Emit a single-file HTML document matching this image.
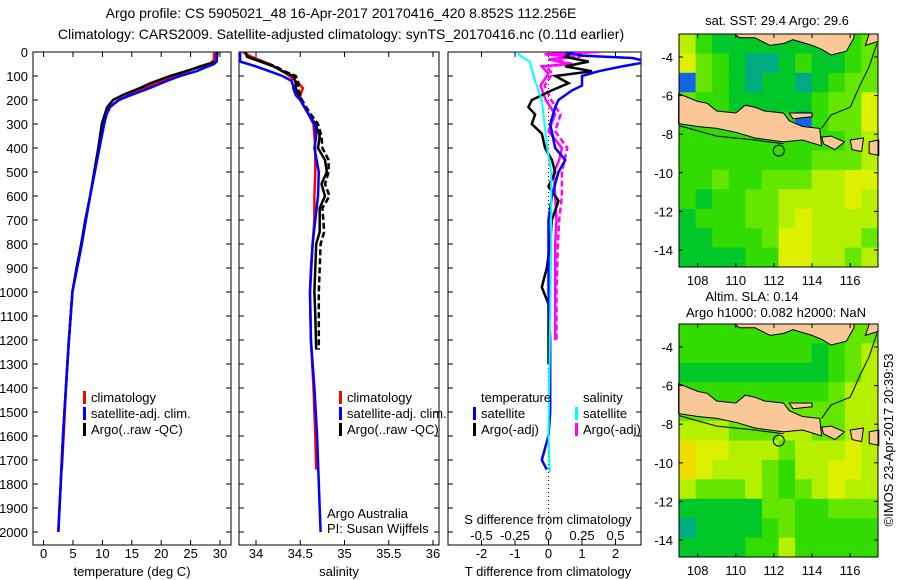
<!DOCTYPE html>
<html><head><meta charset="utf-8"><style>
body{margin:0;background:#fff;width:900px;height:580px;overflow:hidden}
svg{display:block;font-family:"Liberation Sans",sans-serif;font-size:13px}
</style></head><body>
<svg id="fig" width="900" height="580" viewBox="0 0 900 580">
<text x="341" y="18" text-anchor="middle" font-size="14">Argo profile: CS 5905021_48 16-Apr-2017 20170416_420 8.852S 112.256E</text>
<text x="341" y="39" text-anchor="middle" font-size="14">Climatology: CARS2009. Satellite-adjusted climatology: synTS_20170416.nc (0.11d earlier)</text>
<g id="g"></g>
</svg>
<script>
// ---- temperature panel data ----
const climTDepth=[0,30,45,60,80,100,120,150,180,200,230,260,300,400,500,600,700,800,900,1000,1200,1400,1600,1740];
const climT=[29.0,29.0,28.5,26.5,24.5,22,20,17.2,14.5,12.8,11.0,10.4,10.0,9.4,8.7,7.9,7.2,6.5,5.7,4.9,4.3,3.8,3.4,3.1];
const satTDepth=[0,40,50,60,80,100,120,150,180,200,230,260,300,400,500,600,700,800,900,1000,1200,1400,1600,1800,2000];
const satT=[29.4,29.4,29.0,28.0,26.0,23.2,21.0,18.1,14.8,12.8,11.3,10.7,10.3,9.5,8.7,7.9,7.2,6.5,5.7,4.9,4.3,3.8,3.3,2.9,2.5];
const argoTDepth=[0,40,55,70,100,130,150,180,200,230,300,400,500,600,700,800,900,1000,1200,1400,1600,1800,2000];
const argoT=[29.6,29.4,27.5,25.5,21.5,18.2,16.4,13.4,11.8,10.8,9.9,9.3,8.6,7.9,7.1,6.4,5.6,4.9,4.3,3.8,3.3,2.9,2.5];
// ---- salinity panel data ----
const climSDepth=[0,20,50,80,100,130,150,180,200,250,300,400,500,600,700,800,900,1000,1200,1400,1600,1740];
const climS=[33.85,33.95,34.15,34.3,34.38,34.48,34.53,34.5,34.5,34.58,34.65,34.67,34.67,34.66,34.66,34.64,34.62,34.61,34.62,34.65,34.67,34.68];
const satSDepth=[0,40,60,80,100,120,140,150,180,200,250,300,350,400,500,600,700,800,1000,1200,1400,1600,1800,2000];
const satS=[33.82,33.82,34.0,34.15,34.3,34.4,34.42,34.42,34.45,34.5,34.58,34.66,34.68,34.66,34.71,34.7,34.67,34.64,34.61,34.62,34.66,34.69,34.71,34.73];
const argoSDepth=[0,20,40,60,80,100,130,150,180,200,250,300,350,400,450,500,550,600,650,700,750,800,900,1000,1100,1240];
const argoS=[33.88,33.9,34.05,34.2,34.3,34.42,34.45,34.45,34.48,34.5,34.58,34.67,34.72,34.7,34.78,34.8,34.74,34.78,34.72,34.72,34.72,34.68,34.67,34.66,34.67,34.68];
const argoSRaw=[33.88,33.9,34.07,34.22,34.32,34.45,34.48,34.47,34.5,34.52,34.6,34.7,34.74,34.75,34.82,34.82,34.78,34.83,34.75,34.76,34.77,34.73,34.72,34.71,34.71,34.71];
// ---- difference panel data ----
const satDTDepth=[0,15,25,35,45,60,80,100,140,160,200,230,300,400,450,500,600,700,1000,1200,1500,1600,1650,1700,1740];
const satDT=[0.5,1.0,2.5,2.8,2.8,2.2,1.5,1.0,1.0,0.7,0.3,0.2,0.05,0.2,0.5,0.3,0.1,0,0,0.05,0.05,0,-0.1,-0.2,-0.05];
const argoDTDepth=[0,20,40,60,80,100,130,160,200,230,260,300,340,400,450,500,560,620,700,800,900,980,1050,1200,1300];
const argoDT=[0.7,0.5,1.2,0.5,1.3,0.2,0.6,0.1,-0.5,-0.6,-0.4,-0.5,-0.2,-0.1,0.1,0.2,0,0.3,0.1,0.05,-0.05,-0.2,0,0,0];
const satDSDepth=[0,20,40,80,120,200,300,400,500,800,1200,1600,1750];
const satDS=[-0.24,-0.2,-0.14,-0.12,-0.1,-0.05,-0.03,-0.01,0.02,0.02,0.01,0,0.01];
const argoDSDepth=[0,10,20,30,50,60,90,140,200,260,330,400,450,500,600,700,800,1000,1200];
const argoDS=[0.35,-0.03,0.2,0.0,0.15,-0.05,0.0,-0.06,-0.02,0.05,0.0,0.1,0.08,0.04,0.05,0.06,0.05,0.05,0.05];
const argoDSRaw=[0.38,0.0,0.24,0.03,0.18,-0.02,0.03,-0.03,0.02,0.09,0.05,0.14,0.12,0.1,0.1,0.08,0.07,0.06,0.06];
// ---- tick labels ----
const depthTicks=[0,100,200,300,400,500,600,700,800,900,1000,1100,1200,1300,1400,1500,1600,1700,1800,1900,2000];
const tTicks=[0,5,10,15,20,25,30];
const sTicks=[34,34.5,35,35.5,36];
const dtTicks=[-2,-1,0,1,2];
const dsTicks=[-0.5,-0.25,0,0.25,0.5];
const latTicks=[-4,-6,-8,-10,-12,-14];
const lonTicks=[108,110,112,114,116];
// ---- map grids (colour class per cell, rows top->bottom) ----
const sstGrid=[
[5,3,2,2,2,2,2,2,2,3,3,4],[6,4,3,2,1,1,2,3,2,2,3,4],[0,4,3,2,1,2,2,1,2,3,4,4],[4,3,3,2,2,2,2,2,3,4,4,6],
[3,3,3,3,3,3,3,0,3,4,4,6],[3,3,3,3,3,3,3,3,3,3,4,5],[3,3,3,3,3,3,3,3,4,4,4,5],[3,3,4,3,3,4,4,4,5,5,6,6],
[3,2,3,3,4,4,5,5,5,5,6,5],[2,3,3,3,4,4,5,6,5,5,5,5],[2,2,3,3,3,4,6,6,5,5,5,4],[2,2,2,2,3,3,6,6,5,5,4,5]];
const slaGrid=[
[3,3,3,3,3,3,3,3,3,3,4,4],[3,3,3,3,3,3,3,3,2,3,4,5],[2,2,2,2,2,2,2,2,2,3,4,5],[3,3,3,3,3,3,3,3,3,4,5,5],
[4,4,4,4,4,4,4,4,4,4,5,5],[5,5,5,4,4,4,5,5,4,4,5,5],[7,6,6,5,5,5,4,5,5,5,6,5],[7,6,5,5,5,4,3,5,5,6,6,5],
[5,4,4,4,5,4,3,4,5,6,5,5],[2,2,2,2,2,4,4,3,3,4,4,4],[1,2,2,2,2,3,4,3,3,3,3,3],[2,2,2,2,3,3,5,3,3,3,3,3]];
const palette=["#1464e6","#00aa82","#00c828","#32dc00","#64e600","#b4f000","#dcf000","#f0dc00"];
const argoLon=112.256, argoLat=-8.852;

const NS="http://www.w3.org/2000/svg";
const G=document.getElementById('g');
function mk(tag,attrs,parent){const e=document.createElementNS(NS,tag);for(const k in attrs)e.setAttribute(k,attrs[k]);(parent||G).appendChild(e);return e;}
const yD=d=>52+d*0.24;
const xT=t=>43.6+t*5.88;
const xS=s=>256+(s-34)*88.5;
const xDT=v=>548.5+v*33.5;
const xDS=v=>548.5+v*134;

function frame(x0,x1,y0,y1,name){
  const r=mk('rect',{x:x0,y:y0,width:x1-x0,height:y1-y0,fill:'none',stroke:'#000','stroke-width':1});
  
  
}
function txt(x,y,s,anchor,name,extra){
  const t=mk('text',Object.assign({x:x,y:y,'text-anchor':anchor||'start'},extra||{}));
  t.textContent=s;
  
  
  return t;
}
function line(depths,vals,xf,color,name,dash,w,clip){
  const pts=depths.map((d,i)=>xf(vals[i]).toFixed(1)+','+yD(d).toFixed(1)).join(' ');
  const a={points:pts,fill:'none',stroke:color,'stroke-width':w||2.5};
  if(dash)a['stroke-dasharray']=dash;
  if(clip)a['clip-path']=clip;
  const p=mk('polyline',a);
  
  
}
const defs=mk('defs',{});
const cp=mk('clipPath',{id:'cp3'},defs);mk('rect',{x:448,y:52,width:193,height:493},cp);
const cp1=mk('clipPath',{id:'cp2'},defs);mk('rect',{x:239,y:52,width:200,height:493},cp1);

const Y0=52,Y1=545;
frame(33,231,Y0,Y1,'temperature-panel');
frame(239,439,Y0,Y1,'salinity-panel');
frame(448,641,Y0,Y1,'difference-panel');
depthTicks.forEach(d=>{
  const y=yD(d);
  txt(28,y+5,String(d),'end','depth-tick-label');
  [[33,38],[226,231],[239,244],[434,439],[448,453],[636,641]].forEach(p=>mk('line',{x1:p[0],x2:p[1],y1:y,y2:y,stroke:'#000'}));
});
tTicks.forEach(t=>{const x=xT(t);txt(x,558,String(t),'middle','temperature-tick-label');mk('line',{x1:x,x2:x,y1:Y0,y2:Y0+5,stroke:'#000'});mk('line',{x1:x,x2:x,y1:Y1-5,y2:Y1,stroke:'#000'});});
sTicks.forEach(s=>{const x=xS(s);txt(x,558,String(s),'middle','salinity-tick-label');mk('line',{x1:x,x2:x,y1:Y0,y2:Y0+5,stroke:'#000'});mk('line',{x1:x,x2:x,y1:Y1-5,y2:Y1,stroke:'#000'});});
dtTicks.forEach(v=>{const x=xDT(v);txt(x,558,String(v),'middle','t-diff-tick-label');mk('line',{x1:x,x2:x,y1:Y0,y2:Y0+5,stroke:'#000'});mk('line',{x1:x,x2:x,y1:Y1-5,y2:Y1,stroke:'#000'});});
dsTicks.forEach(v=>{txt(xDS(v),540,String(v),'middle','s-diff-tick-label');});
txt(132,576,'temperature (deg C)','middle','temperature-axis-title');
txt(339,576,'salinity','middle','salinity-axis-title');
txt(548,576,'T difference from climatology','middle','t-diff-axis-title');
txt(548,524,'S difference from climatology','middle','s-diff-axis-title');
mk('line',{x1:548.5,x2:548.5,y1:Y0,y2:yD(2000),stroke:'#000','stroke-dasharray':'1,3'});

line(climTDepth,climT,xT,'#ff0000','temperature-climatology-line');
line(argoTDepth,argoT,xT,'#000','temperature-argo-line');
line(satTDepth,satT,xT,'#0000ff','temperature-satellite-line');
line(climSDepth,climS,xS,'#ff0000','salinity-climatology-line',null,2.5,'url(#cp2)');
line(argoSDepth,argoSRaw,xS,'#000','salinity-argo-raw-line','6,3',2.5,'url(#cp2)');
line(argoSDepth,argoS,xS,'#000','salinity-argo-qc-line',null,2.5,'url(#cp2)');
line(satSDepth,satS,xS,'#0000ff','salinity-satellite-line',null,2.5,'url(#cp2)');
line(argoDSDepth,argoDSRaw,xDS,'#ff00ff','s-diff-argo-raw-line','6,3',2.5,'url(#cp3)');
line(argoDSDepth,argoDS,xDS,'#ff00ff','s-diff-argo-line',null,2.5,'url(#cp3)');
line(argoDTDepth,argoDT,xDT,'#000','t-diff-argo-line',null,2.5,'url(#cp3)');
line(satDTDepth,satDT,xDT,'#0000ff','t-diff-satellite-line',null,2.5,'url(#cp3)');
line(satDSDepth,satDS,xDS,'#00ffff','s-diff-satellite-line',null,2,'url(#cp3)');

function leg(bx,ty,color,label,name){
  const r=mk('rect',{x:bx,y:ty-11,width:3,height:13,fill:color});
  
  
  txt(bx+8,ty,label,'start',name);
}
[[83],[339]].forEach((p,i)=>{
  const nm=i?'salinity':'temperature';
  leg(p[0],402,'#ff0000','climatology',nm+'-legend-climatology');
  leg(p[0],418,'#0000ff','satellite-adj. clim.',nm+'-legend-satellite');
  leg(p[0],434,'#000','Argo(..raw -QC)',nm+'-legend-argo');
});
txt(481,402,'temperature','start','diff-legend-temperature-header');
txt(583,402,'salinity','start','diff-legend-salinity-header');
leg(473,418,'#0000ff','satellite','diff-legend-t-satellite');
leg(473,434,'#000','Argo(-adj)','diff-legend-t-argo');
leg(575,418,'#00ffff','satellite','diff-legend-s-satellite');
leg(575,434,'#ff00ff','Argo(-adj)','diff-legend-s-argo');
txt(327,518,'Argo Australia','start','credit-argo-australia');
txt(327,533,'PI: Susan Wijffels','start','credit-pi');

const MX0=679,MX1=878,LON0=107.02,LON1=117.46,LAT0=-2.81,LAT1=-14.88;
function drawMap(grid,top,name){
  const bot=top+233;
  const mx=l=>MX0+(l-LON0)*(MX1-MX0)/(LON1-LON0);
  const my=l=>top+(l-LAT0)*(bot-top)/(LAT1-LAT0);
  const cw=(MX1-MX0)/grid[0].length,ch=(bot-top)/grid.length;
  grid.forEach((row,r)=>row.forEach((v,c)=>{
    const e=mk('rect',{x:(MX0+c*cw).toFixed(1),y:(top+r*ch).toFixed(1),width:(cw+0.5).toFixed(1),height:(ch+0.5).toFixed(1),fill:palette[v]});
    
    
  }));
  const land=[
   [[107,-5.9],[108,-6.3],[108.5,-6.4],[109,-6.8],[110,-6.9],[110.5,-6.5],[111,-6.6],[111.5,-6.8],[112.5,-6.9],[112.8,-7.3],[113.5,-7.6],[114.4,-7.7],[114.5,-8.6],[113.5,-8.3],[112.5,-8.4],[111,-8.2],[110,-7.9],[109,-7.7],[108,-7.6],[107,-7.45]],
   [[112.8,-6.9],[114,-6.9],[114,-7.1],[113,-7.2]],
   [[114.5,-8.15],[115,-8.1],[115.7,-8.4],[115.2,-8.8],[114.6,-8.5]],
   [[116,-8.3],[116.7,-8.2],[116.6,-8.9],[116.1,-8.8]],
   [[117,-8.4],[117.5,-8.3],[117.5,-9.1],[117,-9]],
   [[109.9,-2.81],[110.2,-3.0],[111,-3.0],[111.8,-3.4],[112.5,-3.3],[113,-3.1],[114,-3.4],[114.5,-3.6],[115,-3.9],[115.8,-3.7],[116.2,-3.0],[116.2,-2.81]],
   [[117.46,-2.81],[117.0,-2.81],[116.8,-3.4],[117.46,-3.2]]
  ];
  land.forEach(poly=>{
    const e=mk('polygon',{points:poly.map(p=>mx(p[0]).toFixed(1)+','+my(p[1]).toFixed(1)).join(' '),fill:'#f9c896',stroke:'#000','stroke-width':1});
    
    
  });
  const ct=mk('polyline',{points:[[117.4,-3.3],[117,-4.5],[116.5,-5.5],[116,-6.6],[115,-7],[114.5,-7.7]].map(p=>mx(p[0]).toFixed(1)+','+my(p[1]).toFixed(1)).join(' '),fill:'none',stroke:'#000'});
  
  
  const ct2=mk('polyline',{points:[[107,-7.55],[109,-8.1],[111,-8.3],[112.5,-8.5]].map(p=>mx(p[0]).toFixed(1)+','+my(p[1]).toFixed(1)).join(' '),fill:'none',stroke:'#000'});
  
  
  const c=mk('circle',{cx:mx(argoLon),cy:my(argoLat),r:5.5,fill:'none',stroke:'#000','stroke-width':1});
  
  
  frame(MX0,MX1,top,bot,name+'-frame');
  latTicks.forEach(l=>{const y=my(l);txt(673,y+5,String(l),'end',name+'-lat-label');mk('line',{x1:MX0,x2:MX0+4,y1:y,y2:y,stroke:'#000'});mk('line',{x1:MX1-4,x2:MX1,y1:y,y2:y,stroke:'#000'});});
  lonTicks.forEach(l=>{const x=mx(l);txt(x,bot+18,String(l),'middle',name+'-lon-label');mk('line',{x1:x,x2:x,y1:top,y2:top+4,stroke:'#000'});mk('line',{x1:x,x2:x,y1:bot-4,y2:bot,stroke:'#000'});});
}
drawMap(sstGrid,34,'sst-map');
drawMap(slaGrid,324,'sla-map');
txt(777,25,'sat. SST: 29.4 Argo: 29.6','middle','sst-map-title');
txt(752,301,'Altim. SLA: 0.14','middle','sla-map-title-1');
txt(776,317,'Argo h1000: 0.082 h2000: NaN','middle','sla-map-title-2');
txt(0,0,'©IMOS 23-Apr-2017 20:39:53','middle','timestamp',{transform:'translate(893,440) rotate(-90)'});
</script>
</body></html>
